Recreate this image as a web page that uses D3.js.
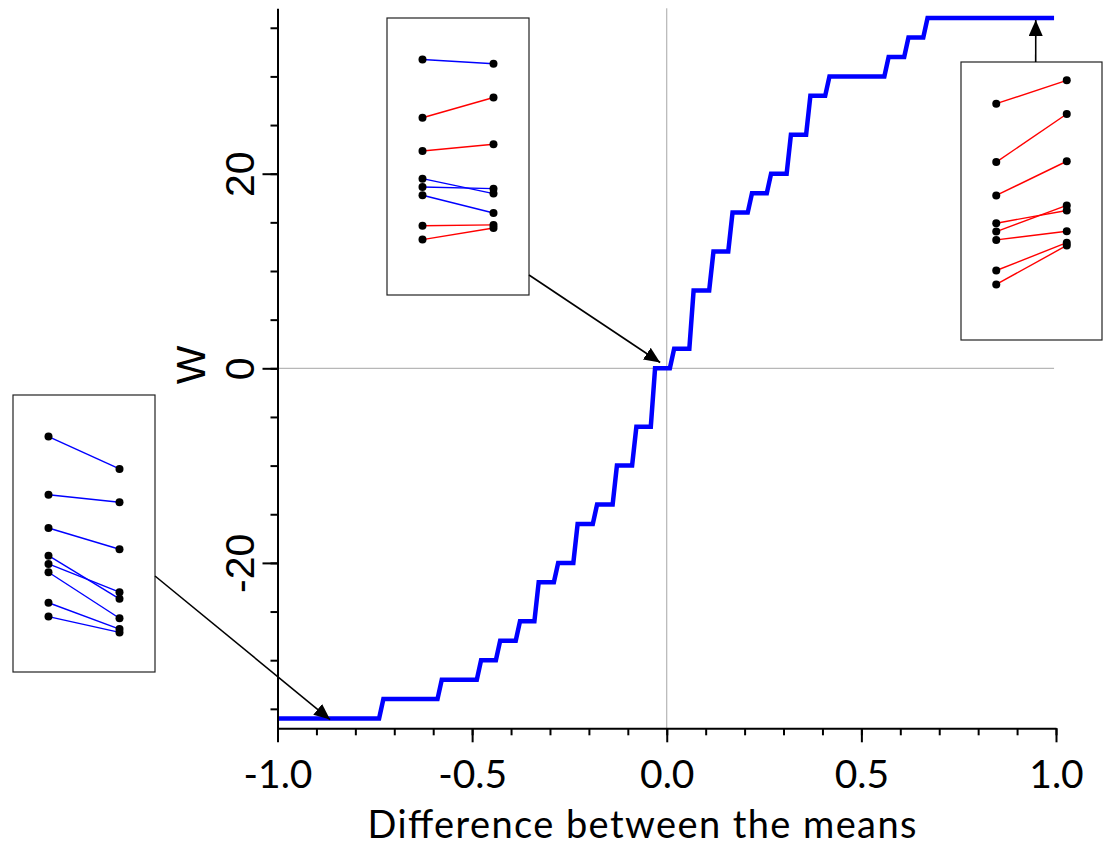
<!DOCTYPE html>
<html>
<head>
<meta charset="utf-8">
<script src="https://cdn.jsdelivr.net/npm/d3@7"></script>
<style>
  body { margin: 0; background: #fff; }
</style>
</head>
<body>
<script>
(function(){

    //W levels of the step curve and the difference at which each level ends
    var levels = [-36, -34, -32, -30, -28, -26, -22, -20, -16, -14, -10, -6, 0, 2, 8, 12, 16, 18, 20, 24, 28, 30, 32, 34, 36];
    var stepEnds = [-0.739, -0.589, -0.488, -0.439, -0.388, -0.340, -0.290, -0.240, -0.190, -0.139, -0.089, -0.041,
                    0.008, 0.058, 0.109, 0.158, 0.208, 0.257, 0.308, 0.358, 0.407, 0.559, 0.610, 0.659];

    //tick labels
    var xTicks = [-1.0, -0.5, 0.0, 0.5, 1.0];
    var yTicks = [-20, 0, 20];

    //paired values shown in the insets (before / after)
    var before    = [8.5, 6.4, 5.2, 4.2, 3.9, 3.6, 2.5, 2.0];
    var afterMid  = [8.35, 7.13, 5.44, 3.66, 3.84, 2.96, 2.53, 2.42];
    var afterHigh = [9.34, 8.13, 6.43, 4.66, 4.84, 3.91, 3.50, 3.40];
    var afterLow  = [7.33, 6.13, 4.43, 2.64, 2.88, 1.94, 1.55, 1.43];

    //where each inset arrow points to (difference, W)
    var tipMid  = [-0.017, 0.6];
    var tipHigh = [0.948, 35.8];
    var tipLow  = [-0.865, -36.1];

    var width = 1103, height = 849;

    var svg = d3.select("body")
        .append("svg")
        .attr("width", width)
        .attr("height", height)
        .style("background", "#fff");

    var x = d3.scaleLinear().domain([-1, 1]).range([277.5, 1056]);
    var y = d3.scaleLinear().domain([-37, 37]).range([728.3, 8.3]);

    svg.append("defs").append("marker")
        .attr("id", "arrowhead")
        .attr("markerUnits", "userSpaceOnUse")
        .attr("viewBox", "0 0 16 14")
        .attr("markerWidth", 16)
        .attr("markerHeight", 14)
        .attr("refX", 16)
        .attr("refY", 7)
        .attr("orient", "auto")
        .append("path")
        .attr("d", "M0,0 L16,7 L0,14 Z")
        .attr("fill", "#000");

    //grid lines through zero
    svg.append("line")
        .attr("x1", x(0)).attr("x2", x(0))
        .attr("y1", y(37)).attr("y2", y(-37))
        .attr("stroke", "#a6a6a6").attr("stroke-width", 1);
    svg.append("line")
        .attr("x1", x(-1)).attr("x2", x(0.995))
        .attr("y1", y(0)).attr("y2", y(0))
        .attr("stroke", "#a6a6a6").attr("stroke-width", 1);

    //build the step curve points
    var riser = 0.011;
    var pts = [];
    levels.forEach(function(w, i){
        var x0 = i == 0 ? -1 : stepEnds[i - 1] + riser;
        var x1 = i == levels.length - 1 ? 0.995 : stepEnds[i];
        pts.push([x0, w]);
        pts.push([x1, w]);
    });

    var line = d3.line()
        .x(function(d){ return x(d[0]); })
        .y(function(d){ return y(d[1]); });

    svg.append("path")
        .datum(pts)
        .attr("d", line)
        .attr("fill", "none")
        .attr("stroke", "#0000ff")
        .attr("stroke-width", 4.5)
        .attr("stroke-linejoin", "miter");

    //x axis: minor then major ticks
    var xMinor = d3.range(-10, 11).map(function(d){ return d / 10; });
    svg.append("g")
        .attr("transform", "translate(0," + y(-37) + ")")
        .call(d3.axisBottom(x).tickValues(xMinor).tickSize(7).tickFormat(""))
        .call(function(g){ g.select(".domain").remove(); })
        .selectAll("line").attr("stroke-width", 2);

    var xAxis = svg.append("g")
        .attr("transform", "translate(0," + y(-37) + ")")
        .call(d3.axisBottom(x).tickValues(xTicks).tickSize(14).tickSizeOuter(0)
            .tickFormat(function(d){ return d.toFixed(1); }));
    xAxis.select(".domain").attr("stroke-width", 2);
    xAxis.selectAll("line").attr("stroke-width", 2);
    xAxis.selectAll("text")
        .attr("y", 60).attr("dy", 0)
        .attr("font-family", "Lato, sans-serif")
        .attr("font-size", 39)
        .attr("fill", "#000");

    //y axis
    var yMinor = d3.range(-35, 36, 5);
    svg.append("g")
        .attr("transform", "translate(" + x(-1) + ",0)")
        .call(d3.axisLeft(y).tickValues(yMinor).tickSize(7).tickFormat(""))
        .call(function(g){ g.select(".domain").remove(); })
        .selectAll("line").attr("stroke-width", 2);

    var yAxis = svg.append("g")
        .attr("transform", "translate(" + x(-1) + ",0)")
        .call(d3.axisLeft(y).tickValues(yTicks).tickSize(15).tickSizeOuter(0)
            .tickFormat(function(d){ return String(d); }));
    yAxis.select(".domain").attr("stroke-width", 2);
    yAxis.selectAll("line").attr("stroke-width", 2);
    yAxis.selectAll("text")
        .attr("x", 0).attr("dy", 0)
        .attr("transform", "translate(-24,0) rotate(-90)")
        .attr("text-anchor", "middle")
        .attr("font-family", "'Liberation Sans', Arial, sans-serif")
        .attr("font-size", 41)
        .attr("fill", "#000");

    //axis titles
    svg.append("text")
        .attr("transform", "translate(205,365) rotate(-90)")
        .attr("text-anchor", "middle")
        .attr("font-family", "'Liberation Sans', Arial, sans-serif")
        .attr("font-size", 41)
        .text("W");

    svg.append("text")
        .attr("x", 642).attr("y", 838)
        .attr("text-anchor", "middle")
        .attr("font-family", "Lato, sans-serif")
        .attr("font-size", 38)
        .attr("textLength", 549)
        .attr("lengthAdjust", "spacing")
        .text("Difference between the means");

    //insets with paired values
    function drawInset(left, top, w, h, after, from, tip){
        var g = svg.append("g").attr("transform", "translate(" + left + "," + top + ")");
        g.append("rect")
            .attr("width", w).attr("height", h)
            .attr("fill", "#fff")
            .attr("stroke", "#222").attr("stroke-width", 1.2);

        var iy = d3.scaleLinear().domain([0, 10]).range([h, 0]);
        var ix = d3.scalePoint().domain(["before", "after"]).range([w * 0.25, w * 0.75]);

        var pairs = before.map(function(b, i){ return {b: b, a: after[i]}; });

        g.selectAll(".pair")
            .data(pairs)
            .enter()
            .append("line")
            .attr("class", "pair")
            .attr("x1", ix("before")).attr("x2", ix("after"))
            .attr("y1", function(d){ return iy(d.b); })
            .attr("y2", function(d){ return iy(d.a); })
            .attr("stroke", function(d){ return d.a > d.b ? "#ff0000" : "#0000ff"; })
            .attr("stroke-width", 1.4);

        pairs.forEach(function(d){
            g.append("circle").attr("cx", ix("before")).attr("cy", iy(d.b)).attr("r", 4).attr("fill", "#000");
            g.append("circle").attr("cx", ix("after")).attr("cy", iy(d.a)).attr("r", 4).attr("fill", "#000");
        });

        svg.append("line")
            .attr("x1", from[0]).attr("y1", from[1])
            .attr("x2", x(tip[0])).attr("y2", y(tip[1]))
            .attr("stroke", "#000").attr("stroke-width", 1.6)
            .attr("marker-end", "url(#arrowhead)");
    }

    drawInset(387, 18, 142, 277, afterMid, [529, 275], tipMid);
    drawInset(961, 62, 141, 278, afterHigh, [1035.7, 62], tipHigh);
    drawInset(13, 395, 142, 277, afterLow, [155, 576], tipLow);

})();
</script>
</body>
</html>
